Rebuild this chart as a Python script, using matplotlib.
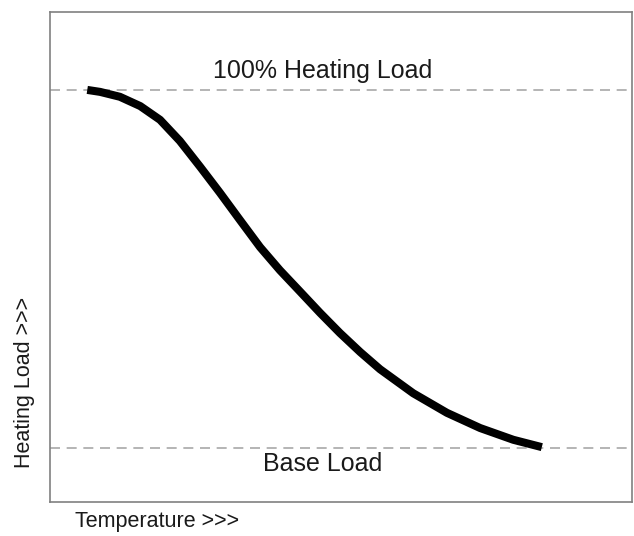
import numpy as np
import matplotlib.pyplot as plt

# curve (temperature vs heating load, arbitrary units)
temperature = [6.4, 8.6, 12.0, 15.5, 18.9, 22.3, 25.8, 29.2, 32.6, 36.1,
               39.5, 43.0, 46.4, 49.8, 53.3, 56.7, 62.4, 68.2, 73.9, 79.6, 84.5]
heating_load = [84.1, 83.7, 82.7, 80.8, 78.0, 73.7, 68.4, 63.1, 57.6, 52.0,
                47.3, 42.9, 38.6, 34.5, 30.6, 27.1, 22.2, 18.2, 15.1, 12.7, 11.2]
full_load = 84.1
base_load = 11.0

plt.rcParams['font.family'] = ['Liberation Sans', 'DejaVu Sans']

fig = plt.figure(figsize=(6.34, 5.36), dpi=100)
ax = fig.add_axes([0.0789, 0.0634, 0.918, 0.9142])

ax.axhline(full_load, color='#a8a8a8', lw=1.2, ls=(0, (6, 4)))
ax.axhline(base_load, color='#a8a8a8', lw=1.2, ls=(0, (6, 4)))
ax.plot(temperature, heating_load, color='black', lw=5.8,
        solid_capstyle='butt', solid_joinstyle='round')

ax.text(46.9, full_load + 3.8, '100% Heating Load', fontsize=18,
        color='#1a1a1a', ha='center', va='center')
ax.text(46.9, base_load - 3.2, 'Base Load', fontsize=18,
        color='#1a1a1a', ha='center', va='center')

ax.set_xlim(0, 100)
ax.set_ylim(0, 100)
ax.set_xticks([])
ax.set_yticks([])
for s in ax.spines.values():
    s.set_color('#808080')
    s.set_linewidth(1.2)

fig.text(75 / 634, 1 - 522 / 536, 'Temperature >>>', fontsize=15.5,
         color='#1a1a1a', ha='left', va='center')
fig.text(25 / 634, 1 - 468 / 536, 'Heating Load >>>', fontsize=15.5,
         color='#1a1a1a', ha='center', va='bottom', rotation=90)

fig.savefig('out.png', dpi=100)
